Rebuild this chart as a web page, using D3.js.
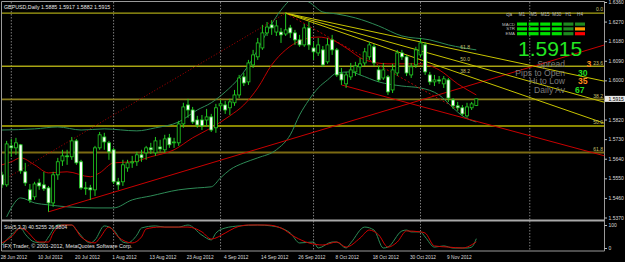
<!DOCTYPE html>
<html><head><meta charset="utf-8">
<script src="https://cdn.jsdelivr.net/npm/d3@7"></script>
<style>html,body{margin:0;padding:0;background:#000;overflow:hidden}svg{display:block}</style>
</head><body>
<svg id="chart" width="625" height="262"></svg>
<script>
// ---------------- DATA ----------------
const dates = ["2012-06-28","2012-06-29","2012-07-02","2012-07-03","2012-07-04","2012-07-05","2012-07-06","2012-07-09","2012-07-10","2012-07-11","2012-07-12","2012-07-13","2012-07-16","2012-07-17","2012-07-18","2012-07-19","2012-07-20","2012-07-23","2012-07-24","2012-07-25","2012-07-26","2012-07-27","2012-07-30","2012-07-31","2012-08-01","2012-08-02","2012-08-03","2012-08-06","2012-08-07","2012-08-08","2012-08-09","2012-08-10","2012-08-13","2012-08-14","2012-08-15","2012-08-16","2012-08-17","2012-08-20","2012-08-21","2012-08-22","2012-08-23","2012-08-24","2012-08-27","2012-08-28","2012-08-29","2012-08-30","2012-08-31","2012-09-03","2012-09-04","2012-09-05","2012-09-06","2012-09-07","2012-09-10","2012-09-11","2012-09-12","2012-09-13","2012-09-14","2012-09-17","2012-09-18","2012-09-19","2012-09-20","2012-09-21","2012-09-24","2012-09-25","2012-09-26","2012-09-27","2012-09-28","2012-10-01","2012-10-02","2012-10-03","2012-10-04","2012-10-05","2012-10-08","2012-10-09","2012-10-10","2012-10-11","2012-10-12","2012-10-15","2012-10-16","2012-10-17","2012-10-18","2012-10-19","2012-10-22","2012-10-23","2012-10-24","2012-10-25","2012-10-26","2012-10-29","2012-10-30","2012-10-31","2012-11-01","2012-11-02","2012-11-05","2012-11-06","2012-11-07","2012-11-08","2012-11-09","2012-11-12","2012-11-13","2012-11-14","2012-11-15","2012-11-16","2012-11-19"];

const open = [1.5566,1.5520,1.5699,1.5690,1.5704,1.5580,1.5497,1.5465,1.5529,1.5520,
1.5506,1.5437,1.5566,1.5630,1.5653,1.5649,1.5722,1.5626,1.5506,1.5506,
1.5497,1.5690,1.5740,1.5713,1.5681,1.5534,1.5534,1.5598,1.5621,1.5626,
1.5658,1.5667,1.5690,1.5667,1.5694,1.5681,1.5736,1.5713,1.5713,1.5800,
1.5887,1.5864,1.5818,1.5818,1.5818,1.5832,1.5782,1.5883,1.5887,1.5874,
1.5897,1.5933,1.6016,1.5993,1.6071,1.6108,1.6149,1.6218,1.6255,1.6222,
1.6222,1.6213,1.6241,1.6218,1.6186,1.6163,1.6241,1.6149,1.6126,1.6140,
1.6085,1.6186,1.6140,1.6030,1.5984,1.6016,1.6039,1.6062,1.6080,1.6108,
1.6154,1.6048,1.6011,1.6016,1.5956,1.6034,1.6126,1.6108,1.6025,1.6071,
1.6117,1.6163,1.6025,1.5993,1.6002,1.5984,1.6002,1.5910,1.5883,1.5874,
1.5837,1.5874,1.5885];
const high = [1.5580,1.5722,1.5731,1.5736,1.5708,1.5621,1.5524,1.5534,1.5548,1.5580,
1.5515,1.5580,1.5644,1.5681,1.5681,1.5740,1.5731,1.5635,1.5534,1.5520,
1.5699,1.5763,1.5759,1.5722,1.5690,1.5552,1.5635,1.5635,1.5653,1.5672,
1.5681,1.5699,1.5713,1.5740,1.5727,1.5750,1.5754,1.5736,1.5814,1.5897,
1.5915,1.5878,1.5837,1.5841,1.5869,1.5846,1.5892,1.5910,1.5906,1.5915,
1.5956,1.6025,1.6034,1.6094,1.6140,1.6195,1.6255,1.6268,1.6277,1.6277,
1.6241,1.6310,1.6255,1.6232,1.6209,1.6259,1.6268,1.6176,1.6195,1.6158,
1.6195,1.6209,1.6149,1.6057,1.6039,1.6080,1.6085,1.6103,1.6149,1.6176,
1.6167,1.6066,1.6080,1.6025,1.6076,1.6140,1.6140,1.6117,1.6080,1.6154,
1.6195,1.6176,1.6039,1.6025,1.6020,1.6020,1.6011,1.5919,1.5901,1.5887,
1.5897,1.5901,1.5917];
const low = [1.5506,1.5511,1.5649,1.5658,1.5571,1.5515,1.5437,1.5451,1.5497,1.5492,
1.5396,1.5419,1.5543,1.5607,1.5612,1.5635,1.5612,1.5497,1.5474,1.5451,
1.5469,1.5681,1.5681,1.5635,1.5524,1.5497,1.5515,1.5580,1.5598,1.5607,
1.5626,1.5635,1.5662,1.5653,1.5672,1.5667,1.5690,1.5690,1.5699,1.5782,
1.5828,1.5800,1.5782,1.5772,1.5786,1.5763,1.5759,1.5864,1.5846,1.5841,
1.5883,1.5919,1.5974,1.5979,1.6057,1.6094,1.6140,1.6204,1.6209,1.6204,
1.6172,1.6204,1.6195,1.6163,1.6154,1.6154,1.6140,1.6094,1.6112,1.6062,
1.6076,1.6117,1.6016,1.5979,1.5965,1.6002,1.6020,1.6025,1.6066,1.6094,
1.6066,1.5993,1.6002,1.5933,1.5942,1.6020,1.6094,1.6020,1.6011,1.6057,
1.6108,1.6025,1.5979,1.5974,1.5984,1.5965,1.5901,1.5869,1.5860,1.5837,
1.5828,1.5864,1.5882];
const close = [1.5520,1.5708,1.5690,1.5713,1.5584,1.5529,1.5451,1.5524,1.5515,1.5502,
1.5437,1.5566,1.5626,1.5653,1.5649,1.5722,1.5621,1.5506,1.5502,1.5497,
1.5690,1.5750,1.5717,1.5672,1.5534,1.5520,1.5612,1.5621,1.5626,1.5658,
1.5644,1.5690,1.5681,1.5722,1.5685,1.5731,1.5704,1.5717,1.5800,1.5878,
1.5864,1.5809,1.5795,1.5791,1.5832,1.5772,1.5874,1.5892,1.5864,1.5901,
1.5933,1.6011,1.5988,1.6080,1.6117,1.6172,1.6218,1.6245,1.6241,1.6250,
1.6209,1.6232,1.6218,1.6186,1.6163,1.6241,1.6163,1.6131,1.6163,1.6071,
1.6163,1.6140,1.6025,1.6002,1.6025,1.6048,1.6066,1.6076,1.6131,1.6163,
1.6080,1.6002,1.6048,1.5947,1.6048,1.6126,1.6108,1.6034,1.6062,1.6140,
1.6172,1.6039,1.5993,1.6002,1.5997,1.6007,1.5919,1.5883,1.5874,1.5846,
1.5878,1.5892,1.5915];

// moving average (red) read at sample dates
const maDates = ["2012-06-28","2012-07-02","2012-07-04","2012-07-09","2012-07-12","2012-07-18","2012-07-25","2012-07-27","2012-08-01","2012-08-07","2012-08-13","2012-08-20","2012-08-24","2012-08-30","2012-09-05","2012-09-10","2012-09-13","2012-09-18","2012-09-21","2012-09-26","2012-10-02","2012-10-05","2012-10-10","2012-10-16","2012-10-23","2012-11-01","2012-11-07","2012-11-13","2012-11-19"];
const maValues = [1.5612,1.5626,1.5644,1.5612,1.5575,1.5580,1.5557,1.5575,1.5621,1.5626,1.5649,1.5681,1.5736,1.5782,1.5837,1.5887,1.5965,1.6071,1.6140,1.6181,1.6199,1.6186,1.6149,1.6094,1.6076,1.6076,1.6048,1.5984,1.5933];

// envelope bands (green)
const upperDates = ["2012-06-28","2012-07-09","2012-07-16","2012-07-23","2012-07-30","2012-08-08","2012-08-14","2012-08-21","2012-08-27","2012-08-30","2012-09-04","2012-09-07","2012-09-12","2012-09-17","2012-09-20","2012-09-25","2012-09-28","2012-10-03","2012-10-08","2012-10-12","2012-10-19","2012-10-26","2012-11-05","2012-11-09","2012-11-19"];
const upperValues = [1.5772,1.5777,1.5786,1.5772,1.5777,1.5768,1.5782,1.5809,1.5864,1.5897,1.5947,1.6011,1.6103,1.6222,1.6323,1.6378,1.6360,1.6314,1.6305,1.6287,1.6250,1.6204,1.6186,1.6163,1.6140];
const lowerDates = ["2012-06-29","2012-07-02","2012-07-04","2012-07-09","2012-07-12","2012-07-18","2012-07-26","2012-08-01","2012-08-07","2012-08-13","2012-08-21","2012-08-27","2012-08-30","2012-09-03","2012-09-05","2012-09-10","2012-09-13","2012-09-19","2012-09-24","2012-09-26","2012-09-28","2012-10-02","2012-10-04","2012-10-08","2012-10-11","2012-10-15","2012-10-19","2012-10-26","2012-11-01","2012-11-07","2012-11-12","2012-11-14","2012-11-19"];
const lowerValues = [1.5373,1.5414,1.5460,1.5437,1.5428,1.5419,1.5414,1.5414,1.5451,1.5469,1.5497,1.5506,1.5511,1.5552,1.5589,1.5621,1.5644,1.5681,1.5750,1.5841,1.5910,1.5965,1.6002,1.6034,1.6039,1.6025,1.5993,1.5974,1.5965,1.5933,1.5874,1.5837,1.5809];

// stochastic (5,3,3)
const stochKDates = ["2012-06-28","2012-07-02","2012-07-04","2012-07-05","2012-07-09","2012-07-11","2012-07-12","2012-07-16","2012-07-19","2012-07-20","2012-07-25","2012-07-26","2012-07-30","2012-08-01","2012-08-03","2012-08-06","2012-08-08","2012-08-09","2012-08-14","2012-08-16","2012-08-21","2012-08-23","2012-08-28","2012-08-30","2012-08-31","2012-09-04","2012-09-07","2012-09-13","2012-09-18","2012-09-24","2012-09-26","2012-10-01","2012-10-02","2012-10-05","2012-10-08","2012-10-10","2012-10-11","2012-10-16","2012-10-18","2012-10-22","2012-10-23","2012-10-26","2012-10-29","2012-10-30","2012-11-01","2012-11-02","2012-11-06","2012-11-08","2012-11-12","2012-11-15","2012-11-16","2012-11-19"];
const stochKValues = [13,56,87,60,26,22,48,100,100,78,22,35,96,78,26,22,56,87,96,91,91,100,56,35,65,87,96,100,96,65,22,26,0,26,26,0,22,91,78,0,4,74,78,70,70,48,4,9,0,0,4,40.5255];
const stochDDates = ["2012-06-28","2012-07-02","2012-07-04","2012-07-05","2012-07-10","2012-07-12","2012-07-13","2012-07-17","2012-07-19","2012-07-23","2012-07-26","2012-07-27","2012-07-31","2012-08-02","2012-08-07","2012-08-09","2012-08-10","2012-08-15","2012-08-20","2012-08-23","2012-08-28","2012-08-30","2012-09-04","2012-09-06","2012-09-11","2012-09-17","2012-09-20","2012-09-25","2012-09-28","2012-10-03","2012-10-08","2012-10-10","2012-10-15","2012-10-17","2012-10-19","2012-10-23","2012-10-25","2012-10-29","2012-11-01","2012-11-02","2012-11-06","2012-11-09","2012-11-14","2012-11-19"];
const stochDValues = [22,48,87,78,26,26,65,100,100,48,22,43,91,48,22,48,83,91,91,91,70,39,65,87,100,100,87,48,22,13,26,4,43,78,57,4,26,74,70,65,9,4,0,26.8804];

// fibonacci retracement & fan
const fibHigh = 1.6309, fibLow = 1.5272;
const fibLevels = [0, 23.6, 38.2, 50.0, 61.8];
const fanStart = ["2012-09-21", 1.6309];
const fanEnd = ["2012-11-15", 1.5843];
const fanLevels = [61.8, 50.0, 38.2];

// trend lines
const trendUp = [["2012-07-12", 1.5396], ["2012-11-19", 1.5986]];
const trendDown = [["2012-10-09", 1.5979], ["2012-11-19", 1.5812]];
const trendDotted = [["2012-06-28", 1.5538], ["2012-09-21", 1.6309]];

// axes
const priceTicks = [1.6360,1.6270,1.6180,1.6090,1.6000,1.5910,1.5820,1.5730,1.5640,1.5550,1.5460,1.5370];
const dateTicks = ["2012-06-28","2012-07-10","2012-07-20","2012-08-01","2012-08-13","2012-08-23","2012-09-04","2012-09-14","2012-09-26","2012-10-08","2012-10-18","2012-10-30","2012-11-09"];
const gridDates = ["2012-07-02","2012-08-01","2012-09-03","2012-10-01","2012-11-01"];
const futureGridBarsAhead = 11.5;

// info panel
const symbol = "GBPUSD,Daily";
const lastOHLC = [1.5885, 1.5917, 1.5882, 1.5915];
const timeframes = ["M1","M5","M15","M30","H1","H4"];
const signalRows = ["MACD","STR","EMA"];
const signalStates = [[2,2,2,2,1,1],[2,2,2,2,1,0],[2,2,2,2,1,-1]];
const statLabels = ["Spread","Pips to Open","Hi to Low","Daily Av"];
const statValues = [3, 30, 35, 67];
const statTone = ["warn","good","warn","good"];

// ---------------- DRAW ----------------
const svg = d3.select("#chart");
const FONT = "'Liberation Sans', Arial, sans-serif";
const RIGHT = 604.5;
svg.append("rect").attr("width",625).attr("height",262).attr("fill","#000");

const idx = new Map(dates.map((d,i)=>[d,i]));
const x = d3.scaleLinear().domain([0, dates.length-1]).range([2.0, 2.0 + 4.65*(dates.length-1)]);
const y = d3.scaleLinear().domain([1.5370, 1.6360]).range([217.5, 2]);
const ys = d3.scaleLinear().domain([0,100]).range([248, 225]);
const parse = d3.timeParse("%Y-%m-%d");
const fmtDate = d3.timeFormat("%-d %b %Y");

const defs = svg.append("defs");
defs.append("clipPath").attr("id","cm").append("rect").attr("x",2).attr("y",2).attr("width",RIGHT-2).attr("height",217.3);
defs.append("clipPath").attr("id","cs").append("rect").attr("x",2).attr("y",222).attr("width",RIGHT-2).attr("height",28.5);

// frame
const frame = svg.append("g").attr("fill","none").attr("stroke","#9a9a9a");
frame.append("line").attr("x1",1.5).attr("x2",1.5).attr("y1",1.5).attr("y2",251);
frame.append("line").attr("x1",1.5).attr("x2",RIGHT).attr("y1",1.5).attr("y2",1.5);
frame.append("line").attr("x1",RIGHT).attr("x2",RIGHT).attr("y1",1.5).attr("y2",251);
frame.append("line").attr("x1",1.5).attr("x2",RIGHT).attr("y1",251).attr("y2",251);
svg.append("rect").attr("x",1.5).attr("y",219.5).attr("width",RIGHT-1.5).attr("height",2).attr("fill","#a8a8a8");

// vertical dashed grid
const gridIdx = gridDates.map(d=>idx.get(d)).concat([dates.length-1+futureGridBarsAhead]);
svg.append("g").selectAll("line").data(gridIdx).join("line")
  .attr("x1",d=>x(d)).attr("x2",d=>x(d)).attr("y1",2).attr("y2",250.5)
  .attr("stroke","#9a9a9a").attr("stroke-width",0.8).attr("stroke-dasharray","1.5,1.5");

const main = svg.append("g").attr("clip-path","url(#cm)");

// fib horizontal levels
const fibColors = ["#a8a414","#a8a414","#8a7d1e","#b8b400","#7c6a12"];
const fibWidths = [1.3,1.5,1.8,1.5,2];
fibLevels.forEach((lv,j)=>{
  const p = fibHigh - (fibHigh-fibLow)*lv/100;
  main.append("line").attr("x1",2).attr("x2",RIGHT).attr("y1",y(p)).attr("y2",y(p))
    .attr("stroke",fibColors[j]).attr("stroke-width",fibWidths[j]);
  svg.append("text").attr("x",RIGHT-1.5).attr("y",y(p)-1.8).attr("text-anchor","end")
    .attr("font-family",FONT).attr("font-size",5).attr("fill","#c8c070").text(lv.toFixed(1));
});

// bands and MA
const lineGen = d3.line().x(d=>x(d[0])).y(d=>y(d[1])).curve(d3.curveMonotoneX);
const pairs = (ds,vs)=>ds.map((d,i)=>[idx.get(d), vs[i]]);
main.append("path").attr("d",lineGen(pairs(upperDates,upperValues))).attr("fill","none").attr("stroke","#2e8b57").attr("stroke-width",1);
main.append("path").attr("d",lineGen(pairs(lowerDates,lowerValues))).attr("fill","none").attr("stroke","#2e8b57").attr("stroke-width",1);
main.append("path").attr("d",lineGen(pairs(maDates,maValues))).attr("fill","none").attr("stroke","#c00000").attr("stroke-width",1);

// trend lines
function ray(pts){
  const i1=idx.get(pts[0][0]), i2=idx.get(pts[1][0]);
  const s=(pts[1][1]-pts[0][1])/(i2-i1);
  const iR=x.invert(RIGHT);
  return [[i1,pts[0][1]],[iR,pts[0][1]+s*(iR-i1)]];
}
const straight = d3.line().x(d=>x(d[0])).y(d=>y(d[1]));
main.append("path").attr("d",straight(ray(trendUp))).attr("stroke","#c80000").attr("stroke-width",1).attr("fill","none");
main.append("path").attr("d",straight(ray(trendDown))).attr("stroke","#c80000").attr("stroke-width",1).attr("fill","none");
main.append("path").attr("d",straight(trendDotted.map(p=>[idx.get(p[0]),p[1]]))).attr("stroke","#b00000").attr("stroke-width",1).attr("stroke-dasharray","1,2").attr("fill","none");

// fib fan
const fs = [idx.get(fanStart[0]), fanStart[1]], fe = [idx.get(fanEnd[0]), fanEnd[1]];
main.append("path").attr("d",straight([fs,fe])).attr("stroke","#b00000").attr("stroke-width",1).attr("stroke-dasharray","2,2").attr("fill","none");
fanLevels.forEach(lv=>{
  const pe = fe[1] + (fs[1]-fe[1])*lv/100;
  const s = (pe-fs[1])/(fe[0]-fs[0]);
  const iR = x.invert(RIGHT);
  main.append("path").attr("d",straight([fs,[iR, fs[1]+s*(iR-fs[0])]])).attr("stroke","#c8c400").attr("stroke-width",1).attr("fill","none");
  svg.append("text").attr("x",x(fe[0])+3).attr("y",y(pe)-2.5).attr("text-anchor","end")
    .attr("font-family",FONT).attr("font-size",5).attr("fill","#c8c070").text(lv.toFixed(1));
});

// candles
const candleG = main.append("g");
const bars = dates.map((d,i)=>({i,o:open[i],h:high[i],l:low[i],c:close[i]}));
candleG.selectAll("line").data(bars).join("line")
  .attr("x1",d=>x(d.i)).attr("x2",d=>x(d.i)).attr("y1",d=>y(d.h)).attr("y2",d=>y(d.l))
  .attr("stroke","#22cc22").attr("stroke-width",1);
candleG.selectAll("rect").data(bars).join("rect")
  .attr("x",d=>x(d.i)-1.5).attr("width",3)
  .attr("y",d=>y(Math.max(d.o,d.c))).attr("height",d=>Math.max(0.8,Math.abs(y(d.o)-y(d.c))))
  .attr("fill",d=>d.c>=d.o?"#000":"#fff").attr("stroke","#22cc22").attr("stroke-width",0.8);

// right axis (price)
const axR = svg.append("g").attr("transform",`translate(${RIGHT},0)`)
  .call(d3.axisRight(y).tickValues(priceTicks).tickFormat(d3.format(".4f")).tickSize(2.5));
axR.select(".domain").remove();
axR.selectAll("line").attr("stroke","#bbb");
axR.selectAll("text").attr("fill","#dcdcdc").attr("font-family",FONT).attr("font-size",5).attr("x",4);

// current price box
const cp = lastOHLC[3];
svg.append("rect").attr("x",RIGHT+0.5).attr("y",y(cp)-3).attr("width",20).attr("height",6).attr("fill","#e8e8e8");
svg.append("text").attr("x",RIGHT+4).attr("y",y(cp)+1.8).attr("font-family",FONT).attr("font-size",5).attr("fill","#000").text(cp.toFixed(4));

// stochastic subwindow
const sub = svg.append("g").attr("clip-path","url(#cs)");
const sLine = d3.line().x(d=>x(d[0])).y(d=>ys(d[1])).curve(d3.curveMonotoneX);
sub.append("path").attr("d",sLine(pairs(stochKDates,stochKValues))).attr("fill","none").attr("stroke","#2e8b57").attr("stroke-width",1);
sub.append("path").attr("d",sLine(pairs(stochDDates,stochDValues))).attr("fill","none").attr("stroke","#d00000").attr("stroke-width",1);
const axS = svg.append("g").attr("transform",`translate(${RIGHT},0)`)
  .call(d3.axisRight(ys).tickValues([100,0]).tickSize(2.5));
axS.select(".domain").remove();
axS.selectAll("line").attr("stroke","#bbb");
axS.selectAll("text").attr("fill","#dcdcdc").attr("font-family",FONT).attr("font-size",5).attr("x",4);
svg.append("text").attr("x",4).attr("y",229).attr("font-family",FONT).attr("font-size",5.2).attr("fill","#e0e0e0")
  .text(`Sto(5,3,3) ${stochKValues[stochKValues.length-1].toFixed(4)} ${stochDValues[stochDValues.length-1].toFixed(4)}`);
svg.append("text").attr("x",3).attr("y",247.5).attr("font-family",FONT).attr("font-size",5.4).attr("fill","#e0e0e0")
  .text("IFX Trader, © 2001-2012, MetaQuotes Software Corp.");

// bottom date axis
svg.append("g").selectAll("text").data(dateTicks).join("text")
  .attr("x",d=>x(idx.get(d))-1.3).attr("y",258.5)
  .attr("font-family",FONT).attr("font-size",4.8).attr("fill","#dcdcdc")
  .text(d=>fmtDate(parse(d)));

// title
svg.append("text").attr("x",4).attr("y",8.5).attr("font-family",FONT).attr("font-size",5.3).attr("fill","#e8e8e8")
  .text(`${symbol}  ${lastOHLC.map(v=>v.toFixed(4)).join(" ")}`);

// info panel
const panel = svg.append("g").attr("font-family",FONT);
const colX = timeframes.map((t,j)=>522 + 11.6*j);
panel.append("text").attr("x",512).attr("y",15.5).attr("text-anchor","end").attr("font-size",4.6).attr("fill","#bbb").text("cja");
panel.selectAll("text.tf").data(timeframes).join("text").attr("class","tf")
  .attr("x",(d,j)=>colX[j]).attr("y",15.5).attr("text-anchor","middle").attr("font-size",4.6).attr("fill","#bbb").text(d=>d);
const stateColor = {"2":"#00e000","1":"#1f8a1f","0":"#ff9900","-1":"#ff0000"};
signalRows.forEach((r,ri)=>{
  const ry = 22.5 + ri*4.8;
  panel.append("text").attr("x",515).attr("y",ry+3).attr("text-anchor","end").attr("font-size",4.4).attr("fill","#bbb").text(r);
  signalStates[ri].forEach((s,j)=>{
    panel.append("rect").attr("x",colX[j]-5).attr("y",ry).attr("width",10).attr("height",3.2).attr("fill",stateColor[String(s)]);
  });
});
panel.append("text").attr("x",518).attr("y",56).attr("font-size",21).attr("fill","#22e622").text(cp.toFixed(4));
const toneColor = {warn:"#ff8c1a", good:"#22dd22"};
const statX = [586.5, 578, 578, 575];
statLabels.forEach((s,j)=>{
  const by = 67.2 + j*8.6;
  panel.append("text").attr("x",565).attr("y",by).attr("text-anchor","end").attr("font-size",8.6).attr("fill","#7a7a7a").text(s);
  panel.append("text").attr("x",statX[j]).attr("y",by).attr("font-size",8.6).attr("font-weight","bold").attr("fill",toneColor[statTone[j]]).text(statValues[j]);
});
</script>
</body></html>
